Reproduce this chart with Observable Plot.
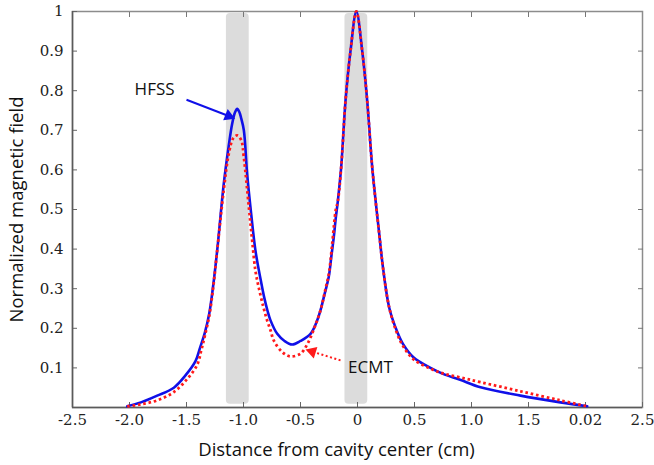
<!DOCTYPE html>
<html>
<head>
<meta charset="utf-8">
<script src="https://cdn.jsdelivr.net/npm/d3@7"></script>
<script src="https://cdn.jsdelivr.net/npm/@observablehq/plot@0.6"></script>
<style>
  html, body { margin: 0; padding: 0; background: #fff; }
</style>
</head>
<body>
<div id="chart"></div>
<script>
// ---- data ----
const hfssX = [-2.02, -1.9, -1.757, -1.611, -1.509, -1.421, -1.38, -1.34, -1.30, -1.265, -1.231, -1.173, -1.13, -1.099, -1.075, -1.055, -1.035, -1.02, -0.997, -0.968, -0.939, -0.895, -0.851, -0.82, -0.79, -0.763, -0.704, -0.64, -0.573, -0.5, -0.412, -0.36, -0.325, -0.29, -0.252, -0.23, -0.208, -0.19, -0.173, -0.143, -0.105, -0.061, -0.01, 0.041, 0.085, 0.129, 0.19, 0.225, 0.28, 0.35, 0.40, 0.49, 0.64, 0.75, 0.9, 1.079, 1.43, 1.78, 2.015];
const hfssY = [0.003, 0.013, 0.03, 0.05, 0.081, 0.117, 0.152, 0.188, 0.238, 0.31, 0.396, 0.565, 0.66, 0.717, 0.745, 0.754, 0.745, 0.73, 0.70, 0.59, 0.506, 0.396, 0.325, 0.28, 0.245, 0.22, 0.186, 0.168, 0.159, 0.168, 0.186, 0.215, 0.245, 0.285, 0.33, 0.38, 0.43, 0.48, 0.52, 0.607, 0.775, 0.901, 1.0, 0.901, 0.775, 0.607, 0.44, 0.35, 0.25, 0.19, 0.16, 0.127, 0.1, 0.085, 0.07, 0.051, 0.03, 0.013, 0.003];

const ecmtX = [-2.02, -1.9, -1.757, -1.611, -1.494, -1.406, -1.37, -1.34, -1.30, -1.265, -1.231, -1.173, -1.129, -1.09, -1.055, -1.02, -0.997, -0.953, -0.924, -0.895, -0.86, -0.825, -0.795, -0.763, -0.734, -0.66, -0.588, -0.5, -0.44, -0.38, -0.325, -0.28, -0.25, -0.222, -0.19, -0.173, -0.143, -0.105, -0.061, -0.01, 0.041, 0.085, 0.129, 0.19, 0.225, 0.28, 0.35, 0.40, 0.49, 0.64, 0.75, 0.9, 1.079, 1.43, 1.78, 2.015];
const ecmtY = [0.003, 0.008, 0.018, 0.039, 0.072, 0.108, 0.145, 0.18, 0.232, 0.305, 0.396, 0.55, 0.641, 0.68, 0.687, 0.675, 0.632, 0.506, 0.422, 0.345, 0.295, 0.253, 0.222, 0.195, 0.169, 0.14, 0.129, 0.136, 0.16, 0.2, 0.245, 0.3, 0.34, 0.413, 0.5, 0.52, 0.607, 0.775, 0.901, 1.0, 0.901, 0.775, 0.607, 0.44, 0.35, 0.25, 0.185, 0.155, 0.122, 0.098, 0.086, 0.076, 0.064, 0.041, 0.018, 0.003];

const bandX1 = [-1.15, -0.11];
const bandX2 = [-0.95, 0.09];
const bandY1 = [0.008, 0.008];
const bandY2 = [0.995, 0.995];

const xTicks = [-2.5, -2.0, -1.5, -1.0, -0.5, 0, 0.5, 1.0, 1.5, 2.0, 2.5];
const xTickLabels = ["-2.5", "-2.0", "-1.5", "-1.0", "-0.5", "0", "0.5", "1.0", "1.5", "0.02", "2.5"];
const yTicks = [0.1, 0.2, 0.3, 0.4, 0.5, 0.6, 0.7, 0.8, 0.9, 1.0];
const yTickLabels = ["0.1", "0.2", "0.3", "0.4", "0.5", "0.6", "0.7", "0.8", "0.9", "1"];

const xTitle = "Distance from cavity center (cm)";
const yTitle = "Normalized magnetic field";

const annotLabels = ["HFSS", "ECMT"];
const annotX = [-1.78, 0.114];
const annotY = [0.803, 0.102];
const arrowX1 = [-1.5, -0.149];
const arrowY1 = [0.777, 0.119];
const arrowX2 = [-1.13, -0.397];
const arrowY2 = [0.736, 0.141];
const arrowRotate = [112, -72.6];

// ---- tables ----
const hfss = hfssX.map((x, i) => ({x, y: hfssY[i]}));
const ecmt = ecmtX.map((x, i) => ({x, y: ecmtY[i]}));
const bands = bandX1.map((x1, i) => ({x1, x2: bandX2[i], y1: bandY1[i], y2: bandY2[i]}));
const annots = annotLabels.map((t, i) => ({t, x: annotX[i], y: annotY[i]}));
const arrows = arrowX1.map((x1, i) => ({x1, y1: arrowY1[i], x2: arrowX2[i], y2: arrowY2[i], r: arrowRotate[i]}));
const xTickRows = xTicks.map((v, i) => ({v, t: xTickLabels[i]}));
const yTickRows = yTicks.map((v, i) => ({v, t: yTickLabels[i]}));

const serif = "DejaVu Serif, Times New Roman, Liberation Serif, serif";
const sans = "Open Sans";

const chart = Plot.plot({
  width: 654,
  height: 465,
  marginLeft: 72,
  marginRight: 12,
  marginTop: 11,
  marginBottom: 58,
  style: {background: "#fff"},
  x: {domain: [-2.5, 2.5]},
  y: {domain: [0, 1]},
  marks: [
    Plot.rect(bands, {x1: "x1", x2: "x2", y1: "y1", y2: "y2", fill: "#dcdcdc", rx: 4}),
    Plot.frame({stroke: "#8c8c8c", strokeWidth: 1.5}),
    Plot.axisX({ticks: xTicks, tickFormat: () => "", tickSize: -5, label: null, stroke: "#666"}),
    Plot.axisX({anchor: "top", ticks: xTicks.slice(1, -1), tickFormat: () => "", tickSize: -5, label: null, stroke: "#777"}),
    Plot.axisY({ticks: yTicks, tickFormat: () => "", tickSize: -5, label: null, stroke: "#666"}),
    Plot.axisY({anchor: "right", ticks: yTicks.slice(0, -1), tickFormat: () => "", tickSize: -5, label: null, stroke: "#777"}),
    Plot.text(xTickRows, {x: "v", text: "t", frameAnchor: "bottom", lineAnchor: "top", dy: 7, fontSize: 15, fontFamily: serif, fill: "#222"}),
    Plot.text(yTickRows, {y: "v", text: "t", frameAnchor: "left", textAnchor: "end", dx: -9, fontSize: 15, fontFamily: serif, fill: "#222"}),
    Plot.ruleX([-2.5], {stroke: "#5a5a5a", strokeWidth: 1.5}),
    Plot.ruleY([0], {stroke: "#5a5a5a", strokeWidth: 1.5}),
    Plot.line(hfss, {x: "x", y: "y", stroke: "#1010e8", strokeWidth: 2.6, curve: "catmull-rom"}),
    Plot.line(ecmt, {x: "x", y: "y", stroke: "#ff1a1a", strokeWidth: 2.8, strokeDasharray: "2.6,2.8", strokeLinecap: "butt", curve: "catmull-rom"}),
    Plot.link(arrows.slice(0, 1), {x1: "x1", y1: "y1", x2: "x2", y2: "y2", stroke: "#1010e8", strokeWidth: 2}),
    Plot.link(arrows.slice(1), {x1: "x1", y1: "y1", x2: "x2", y2: "y2", stroke: "#ff1a1a", strokeWidth: 2, strokeDasharray: "2,2.5", strokeLinecap: "butt"}),
    Plot.dot(arrows, {x: "x2", y: "y2", symbol: "triangle", r: 4.5, rotate: "r", fill: (d, i) => i === 0 ? "#1010e8" : "#ff1a1a", stroke: "none"}),
    Plot.text(annots, {x: "x", y: "y", text: "t", fontSize: 17, fontFamily: sans, fill: "#111"}),
    Plot.text([xTitle], {frameAnchor: "bottom", textAnchor: "middle", lineAnchor: "middle", dx: -21, dy: 43, fontSize: 18.5, fontFamily: sans, fill: "#111"}),
    Plot.text([yTitle], {frameAnchor: "left", textAnchor: "middle", lineAnchor: "middle", dx: -55, rotate: -90, fontSize: 18.5, fontFamily: sans, fill: "#111"})
  ]
});
document.getElementById("chart").appendChild(chart);
</script>
</body>
</html>
